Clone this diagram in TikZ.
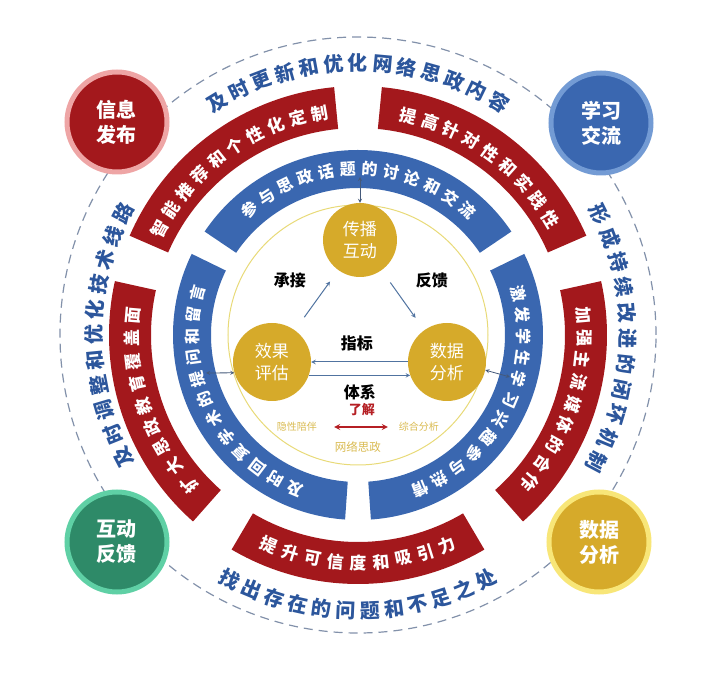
\documentclass[tikz,border=0pt]{standalone}
\usepackage{fontspec}
\setmainfont{Noto Sans CJK SC}
\usepackage{tikz}
\usetikzlibrary{arrows}
\usetikzlibrary{calc}
\usetikzlibrary{positioning}

\definecolor{rougeB}{RGB}{163,24,28}
\definecolor{bleuB}{RGB}{58,103,176}
\definecolor{bleuT}{RGB}{44,86,156}
\definecolor{orB}{RGB}{214,170,42}
\definecolor{orC}{RGB}{217,186,80}
\definecolor{tiret}{RGB}{130,145,170}
\definecolor{anneauJ}{RGB}{232,218,120}
\definecolor{acier}{RGB}{80,115,160}
\definecolor{fonce}{RGB}{68,89,122}
\definecolor{rougeC}{RGB}{238,165,165}
\definecolor{bleuC}{RGB}{115,155,212}
\definecolor{vertB}{RGB}{46,138,104}
\definecolor{vertC}{RGB}{95,208,165}
\definecolor{orL}{RGB}{248,230,120}
\definecolor{rougeF}{RGB}{181,31,36}

% secteur d'anneau : couleur, r int, r ext, angle debut, angle fin
\newcommand{\secteur}[5]{%
  \fill[#1] (#4:#2pt) -- (#4:#3pt) arc[start angle=#4,end angle=#5,radius=#3pt]
    -- (#5:#2pt) arc[start angle=#5,end angle=#4,radius=#2pt] -- cycle;}

% texte courbe : style, nom, rayon, angle debut, pas, rotation, caracteres
\newcommand{\courbe}[7]{%
  \foreach \car [count=\i from 0] in {#7}{%
    \pgfmathsetmacro{\ang}{#4+\i*(#5)}
    \node[#1,rotate={\ang#6}] (#2\i) at (\ang:#3pt) {\car};
  }}

\begin{document}
\begin{tikzpicture}[x=1pt,y=1pt]
\tikzstyle{every node}=[inner sep=0pt]
\tikzset{
  ext/.style={text=bleuT,font=\fontsize{20}{20}\selectfont\bfseries},
  rtxt/.style={text=white,font=\fontsize{17}{17}\selectfont\bfseries},
  btxt/.style={text=white,font=\fontsize{16}{16}\selectfont\bfseries},
  coin/.style={circle,minimum size=100pt,line width=5pt,text=white,align=center,
    font=\fontsize{20}{25}\selectfont\bfseries},
  hub/.style={circle,fill=orB,minimum size=78pt,text=white,align=center,
    font=\fontsize{17}{22}\selectfont},
  lbl/.style={font=\fontsize{16}{16}\selectfont\bfseries},
  petit/.style={text=orC,font=\fontsize{10}{10}\selectfont},
  fl/.style={acier,line width=1pt,>=stealth},
  dbl/.style={fonce,line width=0.8pt,<->,>=stealth},
}
\useasboundingbox (-358,-339) rectangle (344,335);

% Cercle pointille
\draw[tiret,line width=1.2pt,dash pattern=on 9pt off 6pt] (0,0) circle (298pt);

%=== Anneaux
\foreach \k in {54,126,198,270,342}{\secteur{rougeB}{207}{249}{\k-30.5}{\k+30.5}}
\foreach \k in {90,210,330}{\secteur{bleuB}{147}{185}{\k-56}{\k+56}}
\draw[anneauJ,line width=1pt] (0,0) circle (130pt);

%=== Texte externe
\courbe{ext}{th}{272}{121.2}{-5.2}{-90}{及,时,更,新,和,优,化,网,络,思,政,内,容}
\courbe{ext}{tg}{264}{207.5}{-5.5}{-90}{及,时,调,整,和,优,化,技,术,线,路}
\courbe{ext}{td}{270}{26.5}{-5.45}{-90}{形,成,持,续,改,进,的,闭,环,机,制}
\courbe{ext}{tb}{276}{242.3}{5.03}{+90}{找,出,存,在,的,问,题,和,不,足,之,处}

%=== Texte rouge
\courbe{rtxt}{ra}{225}{152}{-5.8}{-90}{智,能,推,荐,和,个,性,化,定,制}
\courbe{rtxt}{rb}{225}{77}{-5.75}{-90}{提,高,针,对,性,和,实,践,性}
\courbe{rtxt}{rc}{226}{221.5}{-5.8}{-90}{扩,大,思,政,教,育,覆,盖,面}
\courbe{rtxt}{rd}{228}{247}{5.75}{+90}{提,升,可,信,度,和,吸,引,力}
\courbe{rtxt}{re}{226}{5}{-5.7}{-90}{加,强,主,流,媒,体,的,合,作}

%=== Texte bleu
\courbe{btxt}{ba}{166}{131}{-7.5}{-90}{参,与,思,政,话,题,的,讨,论,和,交,流}
\courbe{btxt}{bb}{166}{247.5}{-7.45}{-90}{及,时,回,复,学,术,的,提,问,和,留,言}
\courbe{btxt}{bc}{166}{14.5}{-7.5}{-90}{激,发,学,生,学,习,兴,趣,参,与,热,情}

%=== Cercles des coins
\node[coin,fill=rougeB,draw=rougeC] (info) at (-241,213) {信息\\发布};
\node[coin,fill=bleuB,draw=bleuC] (etude) at (243,212) {学习\\交流};
\node[coin,fill=vertB,draw=vertC] (retour) at (-241,-207) {互动\\反馈};
\node[coin,fill=orB,draw=orL] (donnees) at (241,-207) {数据\\分析};

%=== Centre
\node[hub,minimum size=74pt] (diff) at (2,95) {传播\\互动};
\node[hub] (eval) at (-86,-27) {效果\\评估};
\node[hub] (data) at (89,-27) {数据\\分析};

\draw[fl,->,shorten <=16pt,shorten >=14pt] (eval) -- (diff);
\draw[fl,->,shorten <=15pt,shorten >=15pt] (diff) -- (data);
\draw[fl,->] (data.west) -- (eval.east);
\draw[fl,->] (eval.-20) -- (data.200);

\node[lbl] (cj) at (-68,55) {承接};
\node[lbl] (fk) at (74,55) {反馈};
\node[lbl] (zb) at (-1,-8) {指标};
\node[lbl] (tx) at (2,-57) {体系};
\node[font=\fontsize{13}{13}\selectfont\bfseries,text=rougeF] (lj) at (4,-75) {了解};
\node[petit] (yx) at (-61,-92) {隐性陪伴};
\node[petit] (zh) at (61,-92) {综合分析};
\node[petit,font=\fontsize{11.5}{11.5}\selectfont] (wl) at (0,-112) {网络思政};
\draw[rougeF,line width=1.6pt,<->,>=stealth,shorten <=17pt,shorten >=11pt] (yx) -- (zh);

% liaisons avec l'anneau bleu
\coordinate (ph) at (2,158);
\coordinate (pg) at (-152,-38);
\coordinate (pd) at (152,-42);
\draw[dbl] (ph) -- (diff.north);
\draw[dbl] (pg) -- (eval.196);
\draw[dbl] (data.-12) -- (pd);
\end{tikzpicture}
\end{document}
